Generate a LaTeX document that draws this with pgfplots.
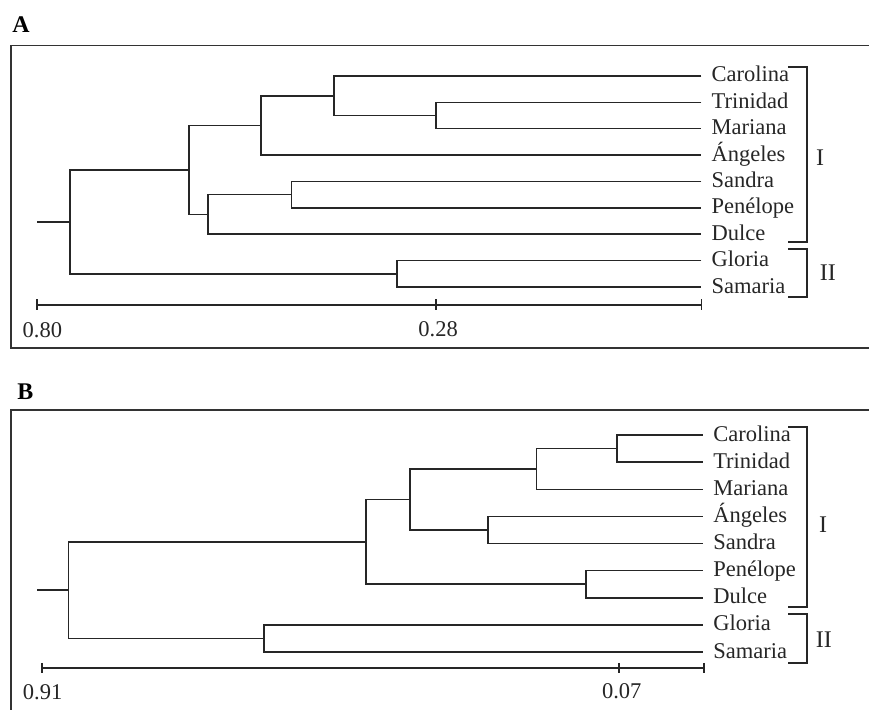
\documentclass[border=0pt]{standalone}
\usepackage{fontspec}
\setmainfont{Liberation Serif}
\usepackage{pgfplots}
\pgfplotsset{compat=1.18}
\definecolor{ln}{HTML}{262626}
\definecolor{fr}{HTML}{333333}
\tikzset{
  leaf/.style={anchor=base west, inner sep=0pt, xshift=5bp, yshift=-3bp, text=ln},
  grp/.style={anchor=center, inner sep=0pt, text=ln},
}
\pgfplotsset{
  dend/.style={scale only axis, width=429bp, axis lines=none, x dir=reverse, y dir=reverse,
    clip=false, xtick=\empty, ytick=\empty},
  dl/.style={line width=0.75bp, color=ln, mark=none},
}
\begin{document}
\begin{tikzpicture}[font=\fontsize{11.3}{13}\selectfont]
\useasboundingbox (0,0) rectangle (434.5bp,-355bp);
% ---------------- Panel A ----------------
\node[anchor=base west, inner sep=0pt, font=\fontsize{12}{13}\selectfont\bfseries] at (6bp,-16bp) {A};
\begin{axis}[dend, name=A, at={(5.5bp,-22.75bp)}, anchor=north west, height=151.25bp,
  xmin=-0.2847, xmax=0.834, ymin=-1.156, ymax=10.313]
% dendrogram (x = distance, y = leaf order)
\addplot[dl] coordinates {(-0.066,1) (0.280,1) (0.280,2) (-0.066,2)};      % Trinidad-Mariana
\addplot[dl] coordinates {(-0.066,0) (0.413,0) (0.413,1.5) (0.280,1.5)};   % Carolina + n1
\addplot[dl] coordinates {(0.413,0.75) (0.508,0.75) (0.508,3) (-0.066,3)}; % + Angeles
\addplot[dl] coordinates {(-0.066,4) (0.468,4) (0.468,5) (-0.066,5)};      % Sandra-Penelope
\addplot[dl] coordinates {(0.468,4.5) (0.577,4.5) (0.577,6) (-0.066,6)};   % + Dulce
\addplot[dl] coordinates {(0.508,1.875) (0.602,1.875) (0.602,5.25) (0.577,5.25)};
\addplot[dl] coordinates {(-0.066,7) (0.331,7) (0.331,8) (-0.066,8)};      % Gloria-Samaria
\addplot[dl] coordinates {(0.602,3.5625) (0.757,3.5625) (0.757,7.5) (0.331,7.5)};
\addplot[dl] coordinates {(0.800,5.531) (0.757,5.531)};
% scale bar
\addplot[dl] coordinates {(0.800,8.68) (-0.066,8.68)};
\addplot[dl] coordinates {(0.800,8.46) (0.800,8.88)};
\addplot[dl] coordinates {(0.280,8.46) (0.280,8.88)};
\addplot[dl] coordinates {(-0.066,8.46) (-0.066,8.88)};
\node[grp] at (axis cs:0.793,9.63) {0.80};
\node[grp] at (axis cs:0.277,9.60) {0.28};
% leaf labels
\node[leaf] at (axis cs:-0.066,0) {Carolina};
\node[leaf] at (axis cs:-0.066,1) {Trinidad};
\node[leaf] at (axis cs:-0.066,2) {Mariana};
\node[leaf] at (axis cs:-0.066,3) {Ángeles};
\node[leaf] at (axis cs:-0.066,4) {Sandra};
\node[leaf] at (axis cs:-0.066,5) {Penélope};
\node[leaf] at (axis cs:-0.066,6) {Dulce};
\node[leaf] at (axis cs:-0.066,7) {Gloria};
\node[leaf] at (axis cs:-0.066,8) {Samaria};
% group brackets
\addplot[dl] coordinates {(-0.179,-0.34) (-0.204,-0.34) (-0.204,6.29) (-0.179,6.29)};
\addplot[dl] coordinates {(-0.179,6.56) (-0.204,6.56) (-0.204,8.38) (-0.179,8.38)};
\node[grp, font=\fontsize{12}{13}\selectfont] at (axis cs:-0.221,3.11) {I};
\node[grp, font=\fontsize{12}{13}\selectfont] at (axis cs:-0.231,7.47) {II};
\end{axis}
\draw[fr, line width=0.75bp] (A.north east) -- (A.north west) -- (A.south west) -- (A.south east);
% ---------------- Panel B ----------------
\node[anchor=base west, inner sep=0pt, font=\fontsize{12}{13}\selectfont\bfseries] at (8.5bp,-199.5bp) {B};
\begin{axis}[dend, name=B, at={(5.5bp,-205bp)}, anchor=north west, height=150bp,
  xmin=-0.2938, xmax=0.955, ymin=-0.922, ymax=10.138]
\addplot[dl] coordinates {(-0.052,0) (0.073,0) (0.073,1) (-0.052,1)};      % Carolina-Trinidad
\addplot[dl] coordinates {(0.073,0.5) (0.190,0.5) (0.190,2) (-0.052,2)};   % + Mariana
\addplot[dl] coordinates {(-0.052,3) (0.261,3) (0.261,4) (-0.052,4)};      % Angeles-Sandra
\addplot[dl] coordinates {(0.190,1.25) (0.374,1.25) (0.374,3.5) (0.261,3.5)};
\addplot[dl] coordinates {(-0.052,5) (0.118,5) (0.118,6) (-0.052,6)};      % Penelope-Dulce
\addplot[dl] coordinates {(0.374,2.375) (0.438,2.375) (0.438,5.5) (0.118,5.5)};
\addplot[dl] coordinates {(-0.052,7) (0.587,7) (0.587,8) (-0.052,8)};      % Gloria-Samaria
\addplot[dl] coordinates {(0.438,3.9375) (0.871,3.9375) (0.871,7.5) (0.587,7.5)};
\addplot[dl] coordinates {(0.917,5.719) (0.871,5.719)};
% scale bar
\addplot[dl] coordinates {(0.910,8.59) (-0.054,8.59)};
\addplot[dl] coordinates {(0.910,8.40) (0.910,8.78)};
\addplot[dl] coordinates {(0.070,8.40) (0.070,8.78)};
\addplot[dl] coordinates {(-0.054,8.40) (-0.054,8.78)};
\node[grp] at (axis cs:0.909,9.47) {0.91};
\node[grp] at (axis cs:0.066,9.44) {0.07};
% leaf labels
\node[leaf] at (axis cs:-0.052,0) {Carolina};
\node[leaf] at (axis cs:-0.052,1) {Trinidad};
\node[leaf] at (axis cs:-0.052,2) {Mariana};
\node[leaf] at (axis cs:-0.052,3) {Ángeles};
\node[leaf] at (axis cs:-0.052,4) {Sandra};
\node[leaf] at (axis cs:-0.052,5) {Penélope};
\node[leaf] at (axis cs:-0.052,6) {Dulce};
\node[leaf] at (axis cs:-0.052,7) {Gloria};
\node[leaf] at (axis cs:-0.052,8) {Samaria};
% group brackets
\addplot[dl] coordinates {(-0.176,-0.295) (-0.2035,-0.295) (-0.2035,6.34) (-0.176,6.34)};
\addplot[dl] coordinates {(-0.176,6.60) (-0.2035,6.60) (-0.2035,8.41) (-0.176,8.41)};
\node[grp, font=\fontsize{12}{13}\selectfont] at (axis cs:-0.227,3.32) {I};
\node[grp, font=\fontsize{12}{13}\selectfont] at (axis cs:-0.228,7.56) {II};
\end{axis}
\draw[fr, line width=0.75bp] (B.north east) -- (B.north west) -- (B.south west);
\end{tikzpicture}
\end{document}
